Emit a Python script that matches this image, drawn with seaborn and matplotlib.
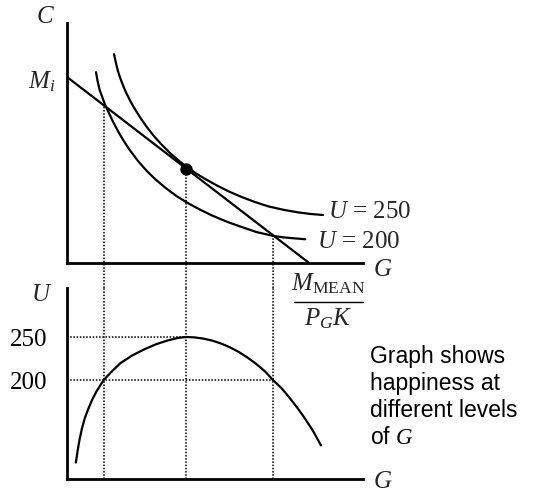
import matplotlib
matplotlib.use("Agg")
import matplotlib.pyplot as plt
from matplotlib.lines import Line2D
import seaborn as sns

sns.set_theme(style="white")
plt.rcParams['font.family'] = ['Liberation Serif', 'DejaVu Serif']
plt.rcParams['mathtext.fontset'] = 'custom'
plt.rcParams['mathtext.rm'] = 'Liberation Serif'
plt.rcParams['mathtext.it'] = 'Liberation Serif:italic'
plt.rcParams['mathtext.bf'] = 'Liberation Serif:bold'

# top panel: consumption C against public good G
budget_G = [0.0, 8.18]
budget_C = [7.75, 0.0]

u250_G = [1.59, 1.65, 1.72, 1.8, 1.9, 2.0, 2.15, 2.3, 2.5, 2.7, 2.95, 3.2, 3.5, 3.8,
          4.05, 4.35, 4.7, 5.05, 5.45, 5.9, 6.35, 6.8, 7.3, 7.8, 8.25, 8.65]
u250_C = [8.7, 8.35, 8.0, 7.7, 7.38, 7.09, 6.72, 6.4, 6.01, 5.66, 5.27, 4.93, 4.56, 4.24,
          4.0, 3.74, 3.48, 3.24, 2.99, 2.75, 2.54, 2.36, 2.22, 2.11, 2.04, 2.0]

u200_G = [0.98, 1.03, 1.1, 1.18, 1.284, 1.4, 1.55, 1.72, 1.9, 2.1, 2.4, 2.7, 3.0, 3.35,
          3.7, 4.05, 4.45, 4.9, 5.4, 5.9, 6.4, 6.96, 7.3, 7.65, 8.05]
u200_C = [7.95, 7.6, 7.22, 6.95, 6.6, 6.29, 5.9, 5.5, 5.12, 4.74, 4.25, 3.83, 3.47, 3.11,
          2.79, 2.52, 2.25, 1.98, 1.72, 1.5, 1.29, 1.13, 1.07, 1.03, 0.99]

opt_G = [4.03]
opt_C = [3.93]

# G levels marked by the dotted guides
drop_G = [1.25, 4.03, 6.96]
drop_C = [6.56, 3.93, 1.14]

# bottom panel: happiness U against G
happy_G = [0.3, 0.36, 0.42, 0.5, 0.6, 0.72, 0.85, 1.0, 1.24, 1.5, 1.8, 2.2, 2.6, 3.0, 3.4,
           3.75, 4.03, 4.3, 4.6, 4.9, 5.2, 5.5, 5.8, 6.1, 6.4, 6.7, 6.96, 7.25, 7.5, 7.8,
           8.0, 8.3, 8.58]
happy_U = [104, 118, 130, 143, 155.5, 166.5, 177, 187, 200, 209.5, 219.5, 228.5, 235.5, 241.5, 246,
           249, 250, 249.6, 248.2, 245.9, 242.5, 238.1, 232.7, 226.1, 218.5, 209.7, 200, 190.4, 180.2, 166.8,
           157.2, 141.5, 124]
u_ticks = [200, 250]
u_labels = ["200", "250"]

W, H = 545, 494
fig = plt.figure(figsize=(W / 100, H / 100), dpi=100)


def px(x, y):
    return x / W, 1 - y / H


top = fig.add_axes([67 / W, 1 - 263 / H, 296 / W, 240 / H])
bot = fig.add_axes([67 / W, 1 - 479 / H, 296 / W, 191 / H])

for ax in (top, bot):
    ax.set_facecolor("none")
    sns.despine(ax=ax)
    for s in ("left", "bottom"):
        ax.spines[s].set_color("black")
        ax.spines[s].set_linewidth(2.0)
    ax.set_xlim(0, 10)
    ax.set_xticks([])

top.set_ylim(0, 10)
top.set_yticks([])
bot.set_ylim(84.9, 307)
bot.set_yticks(u_ticks)
bot.set_yticklabels(u_labels, fontsize=18, color="black")
bot.tick_params(axis="y", length=0, pad=14)

lw = 1.6
sns.lineplot(x=budget_G, y=budget_C, ax=top, color="black", lw=lw, sort=False, estimator=None)
sns.lineplot(x=u250_G, y=u250_C, ax=top, color="black", lw=lw, sort=False, estimator=None)
sns.lineplot(x=u200_G, y=u200_C, ax=top, color="black", lw=lw, sort=False, estimator=None)
top.scatter(opt_G, opt_C, s=62, color="black", zorder=5)

dots = dict(colors="black", linestyles=(0, (1, 1.1)), lw=1.1)
top.vlines(drop_G, -25 / 24, drop_C, clip_on=False, **dots)
bot.vlines(drop_G, 84.9, 307, **dots)
bot.hlines([250, 200], 0, [drop_G[1], drop_G[2]], **dots)

sns.lineplot(x=happy_G, y=happy_U, ax=bot, color="black", lw=lw, sort=False, estimator=None)
for ax in (top, bot):
    ax.set_xlabel("")
    ax.set_ylabel("")

fs = 18
fig.text(*px(45, 17), "$C$", fontsize=fs, ha="center", va="center")
fig.text(*px(42, 82), "$M_i$", fontsize=fs, ha="center", va="center")
fig.text(*px(328, 212), "$U$ = 250", fontsize=fs, ha="left", va="center")
fig.text(*px(317, 242), "$U$ = 200", fontsize=fs, ha="left", va="center")
fig.text(*px(383, 270), "$G$", fontsize=fs, ha="center", va="center")
fig.text(*px(42, 295), "$U$", fontsize=fs, ha="center", va="center")
fig.text(*px(383, 482), "$G$", fontsize=fs, ha="center", va="center")

# the M_MEAN / (P_G K) fraction under the top G axis
fig.text(*px(328, 290), r"$M_{\mathrm{MEAN}}$", fontsize=18, ha="center", va="baseline")
fig.add_artist(Line2D([294 / W, 363 / W], [1 - 302 / H, 1 - 302 / H], color="black", lw=1.0))
fig.text(*px(328, 325), r"$P_G K$", fontsize=18, ha="center", va="baseline")

note = ["Graph shows", "happiness at", "different levels", "of $G$"]
for i, line in enumerate(note):
    fig.text(*px(370, 357 + i * 26.7), line, fontsize=16.5, family="Liberation Sans",
             ha="left", va="center", color="black")

fig.savefig("out.png", dpi=100)
